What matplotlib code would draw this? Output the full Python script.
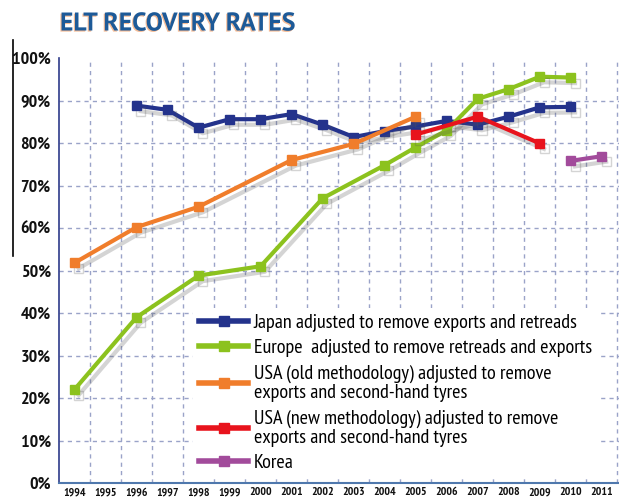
import matplotlib
matplotlib.use("Agg")
import matplotlib.pyplot as plt
import matplotlib.patheffects as pe
from matplotlib.lines import Line2D

FONT = ['PT Sans Narrow', 'DejaVu Sans']
plt.rcParams['font.family'] = FONT

years_all = list(range(1994, 2012))

japan_years = list(range(1996, 2011))
japan_vals = [88.8, 87.8, 83.6, 85.6, 85.6, 86.8, 84.3, 81.4, 82.8, 83.9, 85.2, 84.3, 86.2, 88.4, 88.5]

europe_years = [1994, 1996, 1998, 2000, 2002, 2004, 2005, 2006, 2007, 2008, 2009, 2010]
europe_vals = [22, 39, 48.8, 51, 67, 74.8, 79, 83, 90.4, 92.7, 95.6, 95.4]

usa_old_years = [1994, 1996, 1998, 2001, 2003, 2005]
usa_old_vals = [51.8, 60.2, 65, 76, 79.8, 86.2]

usa_new_years = [2005, 2007, 2009]
usa_new_vals = [82, 86.2, 79.9]

korea_years = [2010, 2011]
korea_vals = [75.8, 76.9]

labels = [
    "Japan adjusted to remove exports and retreads",
    "Europe  adjusted to remove retreads and exports",
    "USA (old methodology) adjusted to remove\nexports and second-hand tyres",
    "USA (new methodology) adjusted to remove\nexports and second-hand tyres",
    "Korea",
]
colors = ['#24338c', '#8cc21e', '#f07d2b', '#e8131c', '#a24b9b']

fig = plt.figure(figsize=(6.19, 5.01), dpi=100)
ax = fig.add_axes([59/619, 18/501, 560/619, 425/501])

shadow = [pe.SimpleLineShadow(offset=(3, -4), shadow_color='#555555', alpha=0.25), pe.Normal()]

series = [(japan_years, japan_vals), (europe_years, europe_vals),
          (usa_old_years, usa_old_vals), (usa_new_years, usa_new_vals),
          (korea_years, korea_vals)]
for (xs, ys), c, lab in zip(series, colors, labels):
    ax.plot(xs, ys, color=c, lw=3.0, marker='s', ms=6.5, mec=c, mfc=c,
            solid_joinstyle='round', path_effects=shadow, zorder=3)

ax.set_xlim(1993.5, 2011.55)
ax.set_ylim(0, 100)
ax.set_yticks(range(0, 101, 10))
ax.set_yticklabels([f"{v}%" for v in range(0, 101, 10)], fontsize=13,
                   fontweight='bold', color='#111111')
ax.set_xticks(years_all)
ax.set_xticklabels([str(y) for y in years_all], fontsize=8.5, fontweight='bold', color='#111111')
ax.tick_params(axis='both', length=0)
ax.tick_params(axis='y', pad=6)
ax.tick_params(axis='x', pad=3)

grid_c = '#9aa3c8'
for v in range(10, 100, 10):
    ax.axhline(v, color=grid_c, lw=1.0, ls=(0, (3, 3)), zorder=1)
for x in [y + 0.5 for y in range(1994, 2012)]:
    ax.axvline(x, ymax=0.99, color=grid_c, lw=1.0, ls=(0, (3, 3)), zorder=1)

for s in ['top', 'right']:
    ax.spines[s].set_visible(False)
ax.spines['left'].set_color('#2e3b8a')
ax.spines['left'].set_linewidth(1.2)
ax.spines['bottom'].set_color('#4f78ad')
ax.spines['bottom'].set_linewidth(1.5)

handles = [Line2D([0], [0], color=c, lw=4, marker='s', ms=7, mec=c, mfc=c) for c in colors]
leg = ax.legend(handles, labels, loc='upper left', bbox_to_anchor=(0.222, 0.435),
                fontsize=14.5, frameon=True, fancybox=False, handlelength=2.4,
                handletextpad=0.3, labelspacing=0.35, borderpad=0.3)
for t in leg.get_texts():
    t.set_linespacing(1.1)
leg.get_frame().set_facecolor('white')
leg.get_frame().set_edgecolor('none')
leg.get_frame().set_alpha(1)
leg.set_zorder(5)

fig.text(60/619, 1 - 24/501, "ELT RECOVERY RATES", fontsize=18.5, fontweight='bold',
         family=['PT Sans', 'DejaVu Sans'],
         color='#1d5a98', va='center', ha='left',
         path_effects=[pe.withSimplePatchShadow(offset=(-0.8, -0.8), shadow_rgbFace='#f09050', alpha=0.6)])

fig.add_artist(Line2D([13/619, 13/619], [1 - 40/501, 1 - 256/501], color='black', lw=1.2,
                      transform=fig.transFigure))

fig.savefig("out.png", dpi=100)
